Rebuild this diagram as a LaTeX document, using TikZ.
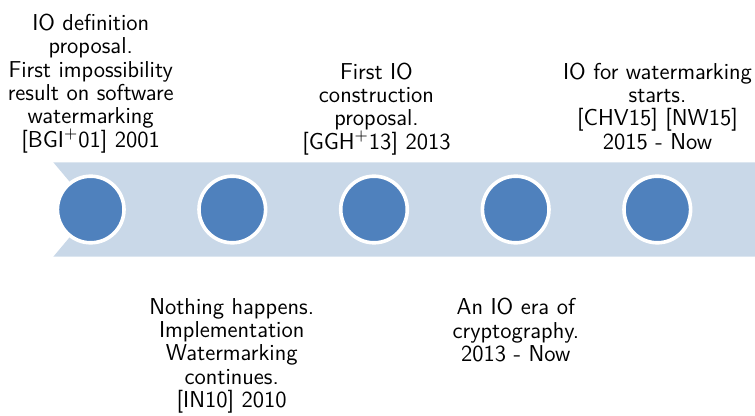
\documentclass[tikz,border=0pt]{standalone}
\begin{document}
\begin{tikzpicture}[x=0.5pt,y=-0.5pt,
  band/.style={fill=bandblue,draw=none},
  dot/.style={circle,fill=dotblue,draw=white,line width=1.8pt,minimum size=33.3pt,inner sep=0pt},
  lbl/.style={align=center,font=\sffamily\fontsize{11.5}{11.65}\selectfont,inner sep=0pt},
  toplbl/.style={lbl,anchor=south,text depth=0pt},
  botlbl/.style={lbl,anchor=north}]
\definecolor{bandblue}{HTML}{C9D8E8}
\definecolor{dotblue}{HTML}{4F81BD}
\useasboundingbox (0,0) rectangle (755,416);
\fill[bandblue] (53.3,162.3) -- (755,162.3) -- (755,256.7) -- (53.3,256.7) -- (93,209.5) -- cycle;
\node[dot] (c1) at (90.7,209.5) {};
\node[dot] (c2) at (232.3,209.5) {};
\node[dot] (c3) at (374,209.5) {};
\node[dot] (c4) at (515.7,209.5) {};
\node[dot] (c5) at (657.3,209.5) {};
\node[toplbl] (t1) at (90.7,147.5) {IO definition\\proposal.\\First impossibility\\result on software\\watermarking\\{[BGI$^+$01] 2001}};
\node[toplbl] (t3) at (376.5,149.5) {First IO\\construction\\proposal.\\{[GGH$^+$13] 2013}};
\node[toplbl] (t5) at (657.5,149.5) {IO for watermarking\\starts.\\{[CHV15] [NW15]}\\2015 - Now};
\node[botlbl] (b2) at (231.7,298) {Nothing happens.\\Implementation\\Watermarking\\continues.\\{[IN10] 2010}};
\node[botlbl] (b4) at (515.8,298) {An IO era of\\cryptography.\\2013 - Now};
\end{tikzpicture}
\end{document}
